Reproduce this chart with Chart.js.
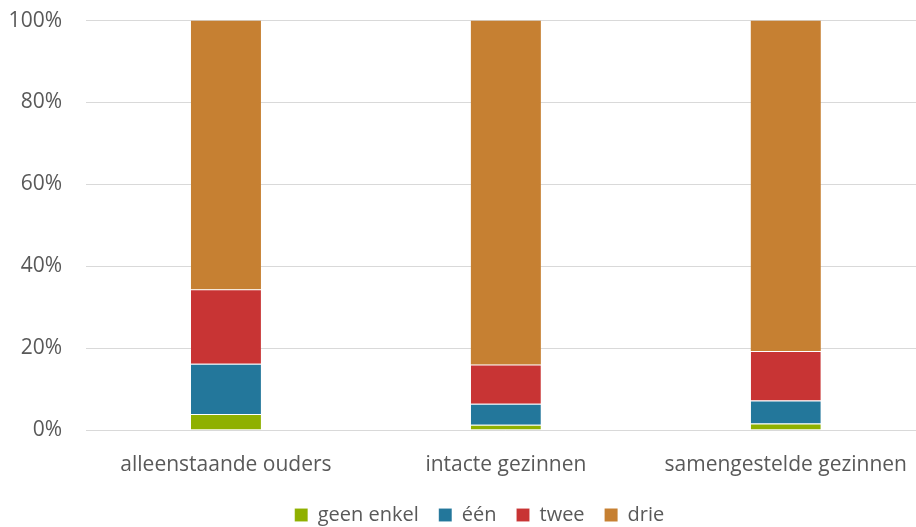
<!DOCTYPE html>
<html>
<head>
<meta charset="utf-8">
<script src="https://cdn.jsdelivr.net/npm/chart.js@4/dist/chart.umd.min.js"></script>
<style>
  html, body { margin: 0; padding: 0; background: #fff; overflow: hidden; height: 527px; }
  #wrap { width: 929px; height: 551px; margin-top: -16px; }
</style>
</head>
<body>
<div id="wrap"><canvas id="grafiek" width="929" height="551"></canvas></div>
<script>
// categorieën en reekswaarden (aandeel in %)
const categorieen = ['alleenstaande ouders', 'intacte gezinnen', 'samengestelde gezinnen'];
const geenEnkel = [3.9, 1.3, 1.6];
const een = [12.3, 5.1, 5.6];
const twee = [18.2, 9.6, 12.1];
const drie = [65.6, 84.0, 80.7];
const yTicks = [0, 20, 40, 60, 80, 100];

const tekstKleur = '#595959';
const lettertype = '"Open Sans", Lato, sans-serif';

function reeks(label, data, kleur, rand) {
    return {
        label: label,
        data: data,
        backgroundColor: kleur,
        borderColor: 'rgba(255,255,255,0.45)',
        borderWidth: { top: rand, bottom: 0, left: 0, right: 0 },
        borderSkipped: false,
        barPercentage: 0.25,
        categoryPercentage: 1.0
    };
}

// legenda iets naar rechts schuiven, zoals in het origineel
const legendaVerschuiving = {
    id: 'legendaVerschuiving',
    afterLayout(chart) {
        if (chart.legend) {
            chart.legend.left += 30;
        }
    }
};

const ctx = document.getElementById('grafiek').getContext('2d');
const chart = new Chart(ctx, {
    type: 'bar',
    data: {
        labels: categorieen,
        datasets: [
            reeks('geen enkel', geenEnkel, 'rgb(143,176,0)', 1),
            reeks('één', een, 'rgb(35,119,155)', 1),
            reeks('twee', twee, 'rgb(200,52,52)', 1),
            reeks('drie', drie, 'rgb(198,128,50)', 0)
        ]
    },
    plugins: [legendaVerschuiving],
    options: {
        responsive: false,
        animation: false,
        layout: { padding: 0 },
        plugins: {
            tooltip: { enabled: false },
            legend: {
                display: true,
                position: 'bottom',
                labels: {
                    color: tekstKleur,
                    font: { family: lettertype, size: 20 },
                    boxWidth: 13,
                    boxHeight: 13,
                    padding: 20
                }
            }
        },
        scales: {
            x: {
                stacked: true,
                grid: { display: false, drawTicks: false },
                border: { display: false },
                afterFit: (axis) => {
                    axis.height = 55;
                },
                ticks: {
                    color: tekstKleur,
                    font: { family: lettertype, size: 21 },
                    padding: 22,
                    maxRotation: 0
                }
            },
            y: {
                stacked: true,
                min: 0,
                max: 100,
                afterBuildTicks: (axis) => {
                    axis.ticks = yTicks.map(v => ({ value: v }));
                },
                afterFit: (axis) => {
                    axis.width = 86;
                },
                grid: { color: '#d9d9d9', lineWidth: 1, drawTicks: false },
                border: { display: false },
                ticks: {
                    color: tekstKleur,
                    font: { family: lettertype, size: 21 },
                    padding: 24,
                    callback: (v) => v + '%'
                }
            }
        }
    }
});
</script>
</body>
</html>
